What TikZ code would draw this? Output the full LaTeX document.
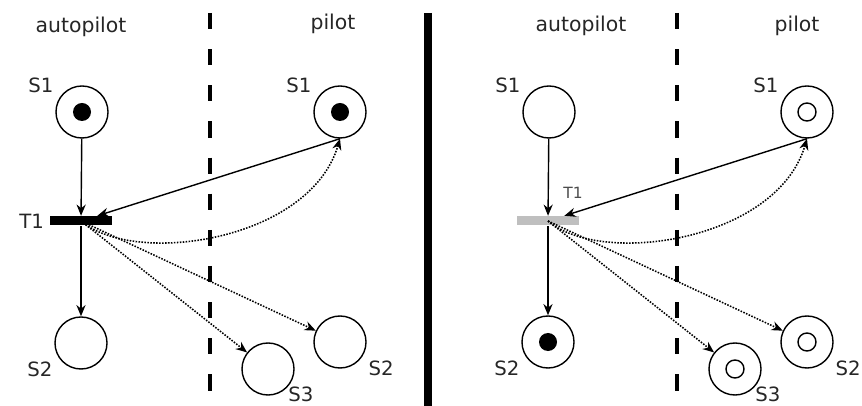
\documentclass[tikz,border=0pt]{standalone}
\usepackage{fontspec}
\setmainfont{DejaVu Sans}
\usetikzlibrary{arrows.meta}

\begin{document}
\begin{tikzpicture}[x=0.025cm,y=-0.025cm,line width=1pt,>={Stealth[length=8pt,width=6.5pt]}]

  \tikzstyle{every label}=[font=\fontsize{14}{16}\selectfont,text=black!85]
  \tikzstyle{place}=[draw=black,shape=circle,minimum size=1.3cm,inner sep=0pt]
  \tikzstyle{marked}=[place,path picture={\fill (path picture bounding box.center) circle (0.225cm);}]
  \tikzstyle{ringed}=[place,path picture={\draw (path picture bounding box.center) circle (0.225cm);}]
  \tikzstyle{trans}=[shape=rectangle,inner sep=0pt,minimum width=1.55cm,minimum height=0.225cm]
  \tikzstyle{head}=[font=\fontsize{14.5}{17}\selectfont,text=black!85]
  \tikzstyle{lane}=[line width=2.4pt,dash pattern=on 11.5pt off 14.2pt]
  \tikzstyle{flow}=[->,densely dotted,line width=1.1pt]

  \useasboundingbox (0,0) rectangle (862,406);

  % before firing
  \node[head] (autoA)  at (81,27)  {autopilot};
  \node[head] (pilotA) at (333,24) {pilot};
  \node[marked,label=150:S1]         (s1a) at (82,112)  {};
  \node[trans,fill=black,label=left:T1] (t1a) at (81,221) {};
  \node[place,label=210:S2]          (s2a) at (81,343)  {};
  \node[marked,label=150:S1]         (s1p) at (340,112) {};
  \node[place,label=-30:S2]          (s2p) at (340,342) {};
  \node[place,label={[label distance=-5pt]-40:S3}] (s3p) at (268,369) {};

  \draw[lane] (210,13) -- (210,393);

  \draw[->] (s1a) -- (t1a);
  \draw[->] (t1a) -- (s2a);
  \draw[->] (s1p.south) -- (t1a);
  \draw[flow] (t1a.center) .. controls +(54,46) and +(-30,102) .. (s1p.south);
  \draw[flow] (t1a.center) -- (s3p);
  \draw[flow] (t1a.center) -- (s2p);

  \draw[line width=5.7pt] (428,13) -- (428,406);

  % after firing
  \node[head] (autoB)  at (581,26) {autopilot};
  \node[head] (pilotB) at (797,26) {pilot};
  \node[place,label=150:S1]          (s1b) at (549,112) {};
  \node[trans,fill=black!25,label={[font=\fontsize{11}{13}\selectfont,text=black!70,label distance=10pt]60:T1}] (t1b) at (548,221) {};
  \node[marked,label=210:S2]         (s2b) at (548,342) {};
  \node[ringed,label=150:S1]         (s1q) at (807,112) {};
  \node[ringed,label=-30:S2]         (s2q) at (807,342) {};
  \node[ringed,label={[label distance=-5pt]-40:S3}] (s3q) at (735,369) {};

  \draw[lane] (677,13) -- (677,393);

  \draw[->] (s1b) -- (t1b);
  \draw[->] (t1b) -- (s2b);
  \draw[->] (s1q.south) -- (t1b);
  \draw[flow] (t1b.center) .. controls +(54,46) and +(-30,102) .. (s1q.south);
  \draw[flow] (t1b.center) -- (s3q);
  \draw[flow] (t1b.center) -- (s2q);
\end{tikzpicture}
\end{document}
